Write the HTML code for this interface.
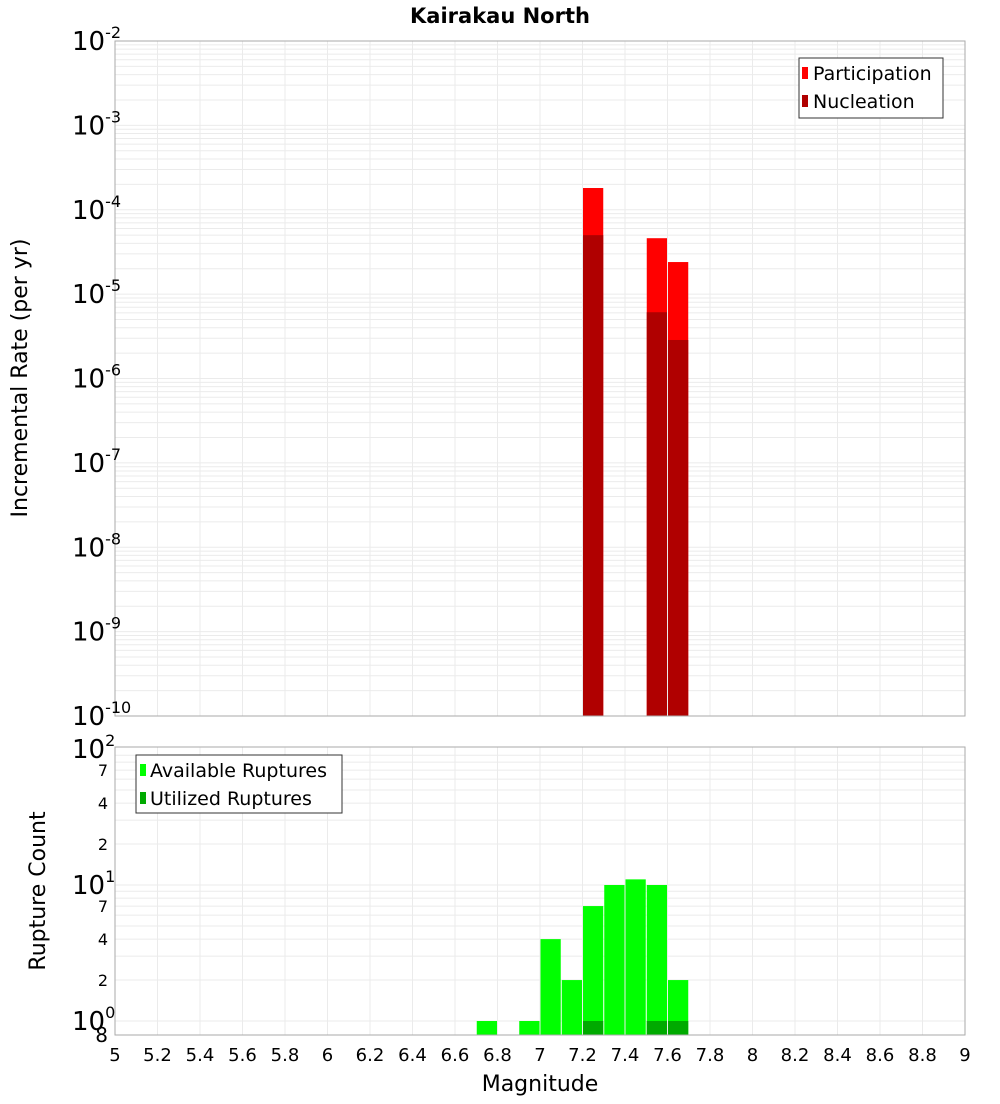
<!DOCTYPE html>
<html><head><meta charset="utf-8"><style>
body{margin:0;background:#fff;font-family:"DejaVu Sans","Liberation Sans",sans-serif;}
svg text{font-family:"DejaVu Sans","Liberation Sans",sans-serif;}
</style></head><body>
<svg id="chart" width="1000" height="1100" xmlns="http://www.w3.org/2000/svg">
<text x="500" y="23" text-anchor="middle" font-size="21" font-weight="bold">Kairakau North</text>
<g id="topg"></g>
<g id="botg"></g>
<text transform="translate(27,378) rotate(-90)" text-anchor="middle" font-size="22">Incremental Rate (per yr)</text>
<text transform="translate(45,891) rotate(-90)" text-anchor="middle" font-size="22">Rupture Count</text>
<text x="540" y="1091" text-anchor="middle" font-size="22">Magnitude</text>
<g>
<rect x="799" y="58" width="144" height="60" fill="#fff" stroke="#333"/>
<rect x="802" y="67" width="6" height="12" fill="#ff0000"/>
<text x="813" y="80" font-size="19">Participation</text>
<rect x="802" y="95" width="6" height="12" fill="#b00000"/>
<text x="813" y="108" font-size="19">Nucleation</text>
</g>
<g>
<rect x="136" y="755" width="206" height="58" fill="#fff" stroke="#333"/>
<rect x="140" y="764" width="6" height="12" fill="#00ff00"/>
<text x="150" y="777" font-size="19">Available Ruptures</text>
<rect x="140" y="792" width="6" height="12" fill="#00aa00"/>
<text x="150" y="805" font-size="19">Utilized Ruptures</text>
</g>
</svg>
<script>
const mags=[7.25,7.55,7.65];
const participation=[1.81e-4,4.6e-5,2.4e-5];
const nucleation=[5.0e-5,6.1e-6,2.86e-6];
const countMags=[6.75,6.95,7.05,7.15,7.25,7.35,7.45,7.55,7.65];
const available=[1,1,4,2,7,10,11,10,2];
const utilMags=[7.25,7.55,7.65];
const utilized=[1,1,1];
const xTicks=[5,5.2,5.4,5.6,5.8,6,6.2,6.4,6.6,6.8,7,7.2,7.4,7.6,7.8,8,8.2,8.4,8.6,8.8,9];
const NS='http://www.w3.org/2000/svg';
const L=115,R=965;
const x=m=>L+(m-5)/4*(R-L);
const yT=v=>41+(-2-Math.log10(v))*84.375;
const yB=v=>885-Math.log10(v/10)*136;
function mk(p,t,a){const e=document.createElementNS(NS,t);for(const k in a)e.setAttribute(k,a[k]);p.appendChild(e);return e;}
const topG=document.getElementById('topg'),botG=document.getElementById('botg');
for(let d=-10;d<-2;d++)for(let k=1;k<10;k++){const yy=yT(k*Math.pow(10,d));if(yy<41)continue;
 const g=mk(topG,'line',{x1:L,x2:R,y1:yy,y2:yy,stroke:'#ebebeb'});
 
 }
[1,2,3,4,5,6,7,8,9,10,20,30,40,50,60,70,80,90].forEach(v=>{const yy=yB(v);const g=mk(botG,'line',{x1:L,x2:R,y1:yy,y2:yy,stroke:'#ebebeb'});
 
 });
xTicks.forEach(m=>{[[topG,41,716],[botG,747,1035]].forEach(([p,a,b])=>{const g=mk(p,'line',{x1:x(m),x2:x(m),y1:a,y2:b,stroke:'#ebebeb'});
 
 });
 const t=mk(botG,'text',{x:x(m),y:1061,'text-anchor':'middle','font-size':18});t.textContent=String(m);
 
 });
const bw=(R-L)/40;
mags.forEach((m,i)=>{const x0=x(m)-bw/2+0.5,w=bw-1;
 const p=mk(topG,'rect',{x:x0,y:yT(participation[i]),width:w,height:716-yT(participation[i]),fill:'#ff0000'});
 
 
 const n=mk(topG,'rect',{x:x0,y:yT(nucleation[i]),width:w,height:716-yT(nucleation[i]),fill:'#b00000'});
 
 });
countMags.forEach((m,i)=>{const b=mk(botG,'rect',{x:x(m)-bw/2+0.5,y:yB(available[i]),width:bw-1,height:1035-yB(available[i]),fill:'#00ff00'});
 
 });
utilMags.forEach((m,i)=>{const b=mk(botG,'rect',{x:x(m)-bw/2+0.5,y:yB(utilized[i]),width:bw-1,height:1035-yB(utilized[i]),fill:'#00aa00'});
 
 });
mk(topG,'rect',{x:L,y:41,width:R-L,height:675,fill:'none',stroke:'#aaa'});
mk(botG,'rect',{x:L,y:747,width:R-L,height:288,fill:'none',stroke:'#aaa'});
for(let d=-10;d<=-2;d++){const yy=yT(Math.pow(10,d));const t=mk(topG,'text',{x:72,y:yy+9,'font-size':26});
 t.innerHTML='10<tspan dy="-12" font-size="16">'+d+'</tspan>';
 
 }
[[100,'2'],[10,'1'],[1,'0']].forEach(([v,e])=>{const t=mk(botG,'text',{x:72,y:yB(v)+9,'font-size':26});t.innerHTML='10<tspan dy="-12" font-size="16">'+e+'</tspan>';
 
 });
[[70,'7'],[40,'4'],[20,'2'],[7,'7'],[4,'4'],[2,'2']].forEach(([v,s])=>{const t=mk(botG,'text',{x:108,y:yB(v)+6,'font-size':16,'text-anchor':'end'});t.textContent=s;
 
 });
const t8=mk(botG,'text',{x:108,y:yB(0.8)+8,'font-size':20,'text-anchor':'end'});t8.textContent='8';


</script>
</body></html>
